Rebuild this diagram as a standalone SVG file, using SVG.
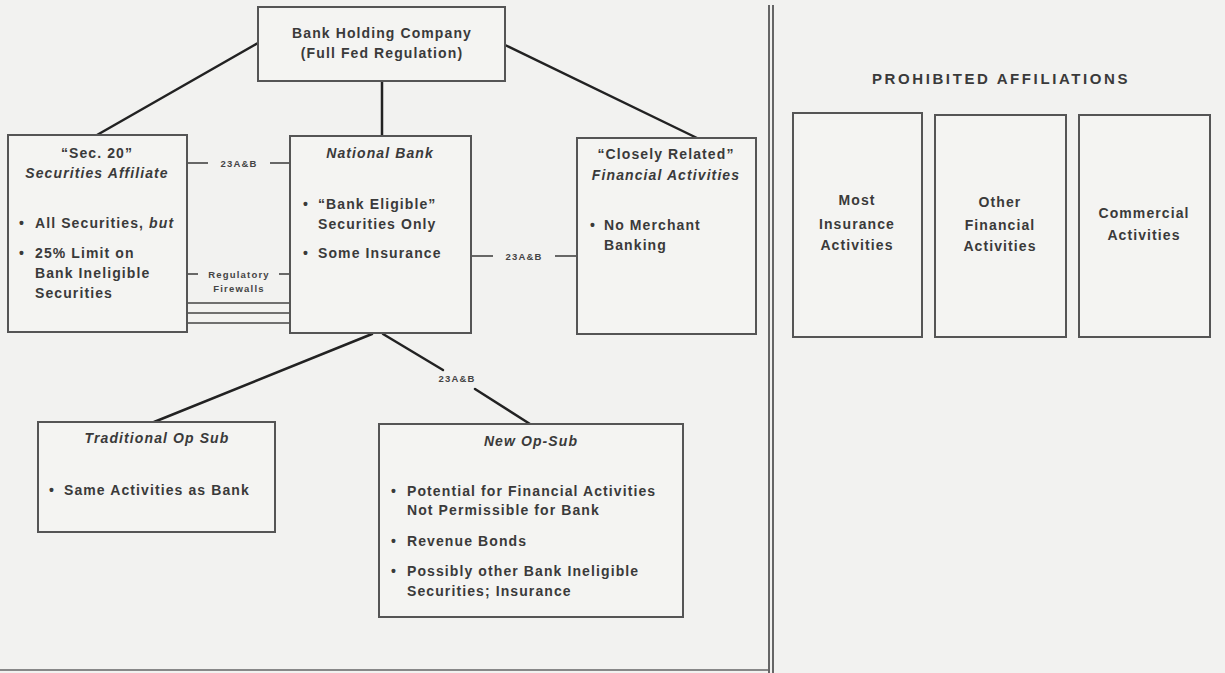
<svg xmlns="http://www.w3.org/2000/svg" width="1225" height="673" viewBox="0 0 1225 673">
<style>
  .bg{fill:#f2f2f0}
  .box{fill:#f4f4f2;stroke:#555;stroke-width:2}
  .t{font-family:"Liberation Sans",Arial,sans-serif;font-weight:bold;font-size:14px;fill:#3a3a3a;letter-spacing:1.1px}
  .c{text-anchor:middle}
  .i{font-style:italic}
  .s{font-family:"Liberation Sans",Arial,sans-serif;font-weight:bold;font-size:9.5px;fill:#444;letter-spacing:1.2px;text-anchor:middle}
  .h{font-family:"Liberation Sans",Arial,sans-serif;font-weight:bold;font-size:15px;fill:#3a3a3a;letter-spacing:2.6px;text-anchor:middle}
  .ln{stroke:#222;stroke-width:2.5;fill:none;stroke-linecap:round}
  .thin{stroke:#444;stroke-width:1.6;fill:none}
  .div{stroke:#666;stroke-width:2;fill:none}
</style>
<rect class="bg" x="0" y="0" width="1225" height="673"/>

<g id="connectors">
  <line class="ln" x1="258" y1="43" x2="97" y2="135"/>
  <line class="ln" x1="382" y1="81" x2="382" y2="136"/>
  <line class="ln" x1="505" y1="45" x2="697" y2="138"/>
  <line class="ln" x1="372" y1="334" x2="154" y2="422"/>
  <line class="ln" x1="383" y1="334" x2="443" y2="370"/>
  <line class="ln" x1="475" y1="389" x2="530" y2="424"/>
  <text class="s" x="457" y="382">23A&amp;B</text>
  <line class="thin" x1="187" y1="163" x2="208" y2="163"/>
  <line class="thin" x1="270" y1="163" x2="290" y2="163"/>
  <text class="s" x="239" y="167">23A&amp;B</text>
  <line class="thin" x1="187" y1="274" x2="198" y2="274"/>
  <line class="thin" x1="279" y1="274" x2="290" y2="274"/>
  <text class="s" x="239" y="278">Regulatory</text>
  <text class="s" x="239" y="292">Firewalls</text>
  <line class="thin" x1="187" y1="303" x2="290" y2="303"/>
  <line class="thin" x1="187" y1="313" x2="290" y2="313"/>
  <line class="thin" x1="187" y1="323" x2="290" y2="323"/>
  <line class="thin" x1="471" y1="256" x2="493" y2="256"/>
  <line class="thin" x1="555" y1="256" x2="577" y2="256"/>
  <text class="s" x="524" y="260">23A&amp;B</text>
</g>

<g id="bhc">
  <rect class="box" x="258" y="7" width="247" height="74"/>
  <text class="t c" x="382" y="38">Bank Holding Company</text>
  <text class="t c" x="382" y="58">(Full Fed Regulation)</text>
</g>

<g id="sec20">
  <rect class="box" x="8" y="135" width="179" height="197"/>
  <text class="t c" x="97" y="158">“Sec. 20”</text>
  <text class="t c i" x="97" y="178">Securities Affiliate</text>
  <text class="t" x="19" y="228">•</text>
  <text class="t" x="35" y="228">All Securities, <tspan class="i">but</tspan></text>
  <text class="t" x="19" y="258">•</text>
  <text class="t" x="35" y="258">25% Limit on</text>
  <text class="t" x="35" y="278">Bank Ineligible</text>
  <text class="t" x="35" y="298">Securities</text>
</g>

<g id="national-bank">
  <rect class="box" x="290" y="136" width="181" height="197"/>
  <text class="t c i" x="380" y="158">National Bank</text>
  <text class="t" x="303" y="209">•</text>
  <text class="t" x="318" y="209">“Bank Eligible”</text>
  <text class="t" x="318" y="229">Securities Only</text>
  <text class="t" x="303" y="258">•</text>
  <text class="t" x="318" y="258">Some Insurance</text>
</g>

<g id="closely-related">
  <rect class="box" x="577" y="138" width="179" height="196"/>
  <text class="t c" x="666" y="159">“Closely Related”</text>
  <text class="t c i" x="666" y="180">Financial Activities</text>
  <text class="t" x="590" y="230">•</text>
  <text class="t" x="604" y="230">No Merchant</text>
  <text class="t" x="604" y="250">Banking</text>
</g>

<g id="traditional-op-sub">
  <rect class="box" x="38" y="422" width="237" height="110"/>
  <text class="t c i" x="157" y="443">Traditional Op Sub</text>
  <text class="t" x="49" y="495">•</text>
  <text class="t" x="64" y="495">Same Activities as Bank</text>
</g>

<g id="new-op-sub">
  <rect class="box" x="379" y="424" width="304" height="193"/>
  <text class="t c i" x="531" y="446">New Op-Sub</text>
  <text class="t" x="391" y="496">•</text>
  <text class="t" x="407" y="496">Potential for Financial Activities</text>
  <text class="t" x="407" y="515">Not Permissible for Bank</text>
  <text class="t" x="391" y="546">•</text>
  <text class="t" x="407" y="546">Revenue Bonds</text>
  <text class="t" x="391" y="576">•</text>
  <text class="t" x="407" y="576">Possibly other Bank Ineligible</text>
  <text class="t" x="407" y="596">Securities; Insurance</text>
</g>

<g id="divider">
  <line class="div" x1="769" y1="5" x2="769" y2="673"/>
  <line class="div" x1="773" y1="5" x2="773" y2="673"/>
  <line stroke="#888" stroke-width="2" x1="0" y1="670" x2="768" y2="670"/>
</g>

<text class="h" x="1001" y="84">PROHIBITED AFFILIATIONS</text>

<g id="most-insurance">
  <rect class="box" x="793" y="113" width="129" height="224"/>
  <text class="t c" x="857" y="205">Most</text>
  <text class="t c" x="857" y="229">Insurance</text>
  <text class="t c" x="857" y="250">Activities</text>
</g>

<g id="other-financial">
  <rect class="box" x="935" y="115" width="131" height="222"/>
  <text class="t c" x="1000" y="207">Other</text>
  <text class="t c" x="1000" y="230">Financial</text>
  <text class="t c" x="1000" y="251">Activities</text>
</g>

<g id="commercial">
  <rect class="box" x="1079" y="115" width="131" height="222"/>
  <text class="t c" x="1144" y="218">Commercial</text>
  <text class="t c" x="1144" y="240">Activities</text>
</g>
</svg>
